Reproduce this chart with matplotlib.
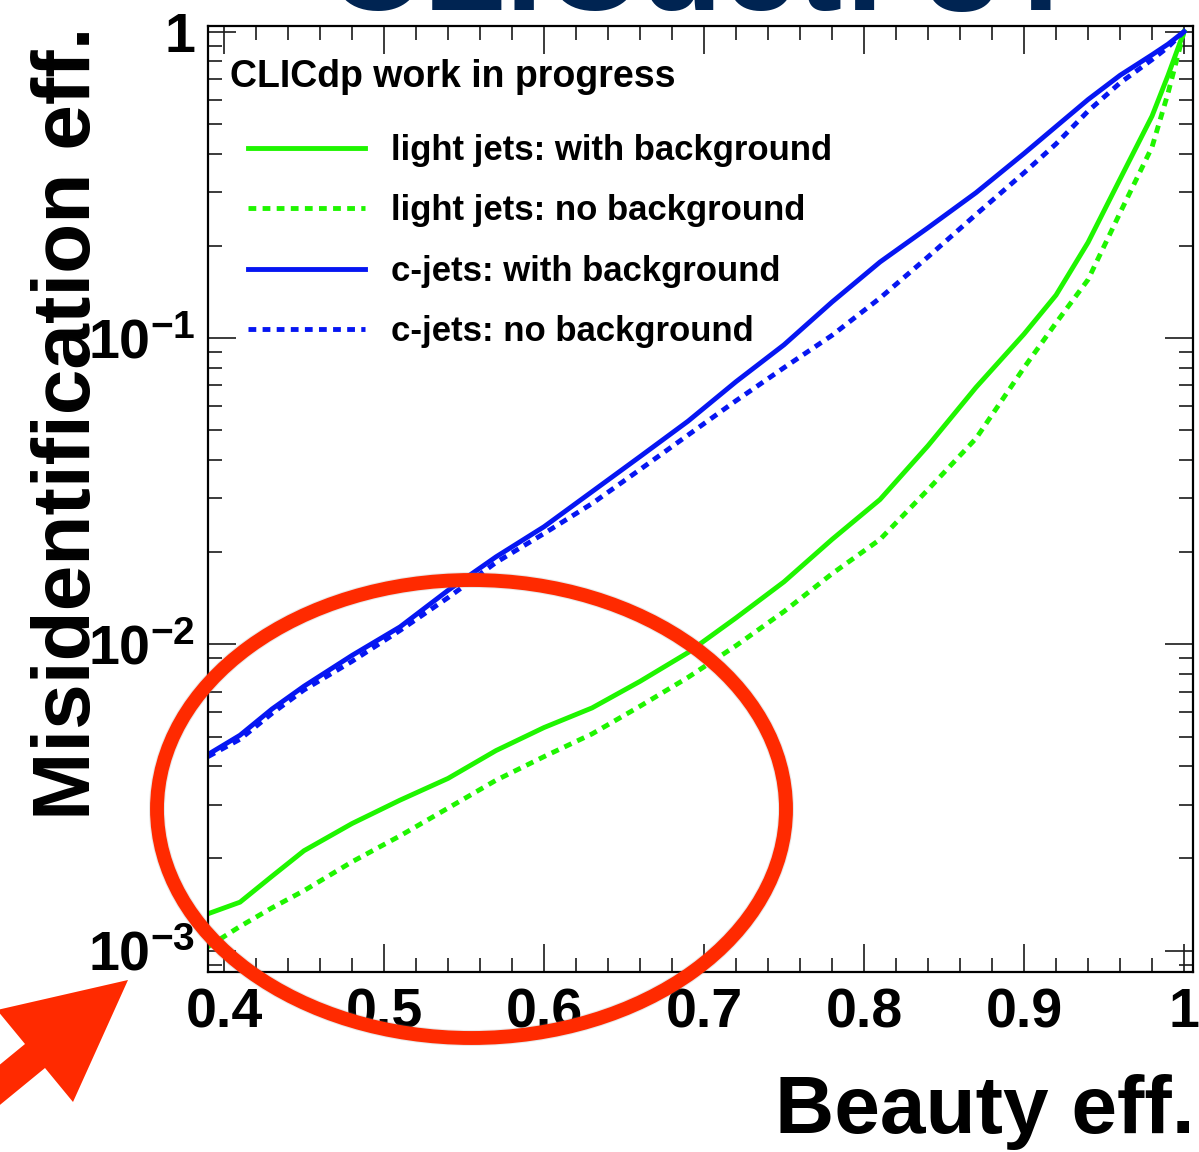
import math
import matplotlib
matplotlib.use('Agg')
import matplotlib.pyplot as plt
import matplotlib.patheffects as pe
from matplotlib.patches import Ellipse, Polygon
from matplotlib.lines import Line2D
from matplotlib.ticker import MultipleLocator, LogLocator, FuncFormatter, NullFormatter

# beauty efficiency and mis-id efficiencies
beauty_eff = [0.39, 0.41, 0.43, 0.45, 0.48, 0.51, 0.54, 0.57, 0.60, 0.63, 0.66, 0.69,
              0.72, 0.75, 0.78, 0.81, 0.84, 0.87, 0.90, 0.92, 0.94, 0.96, 0.98, 0.99, 1.00]
light_bg = [1.32e-3, 1.44e-3, 1.75e-3, 2.12e-3, 2.6e-3, 3.1e-3, 3.65e-3, 4.5e-3, 5.35e-3,
            6.2e-3, 7.57e-3, 9.4e-3, 1.22e-2, 1.6e-2, 2.2e-2, 2.97e-2, 4.45e-2, 6.9e-2,
            0.103, 0.138, 0.205, 0.33, 0.53, 0.72, 1.0]
light_nobg = [1.03e-3, 1.2e-3, 1.38e-3, 1.57e-3, 1.95e-3, 2.37e-3, 2.92e-3, 3.6e-3, 4.3e-3,
              5.1e-3, 6.28e-3, 7.8e-3, 9.9e-3, 1.28e-2, 1.7e-2, 2.2e-2, 3.2e-2, 4.7e-2,
              8.0e-2, 0.112, 0.155, 0.256, 0.42, 0.63, 1.0]
c_bg = [4.37e-3, 5.05e-3, 6.15e-3, 7.3e-3, 9.2e-3, 1.14e-2, 1.5e-2, 1.93e-2, 2.42e-2,
        3.15e-2, 4.1e-2, 5.35e-2, 7.2e-2, 9.5e-2, 0.131, 0.177, 0.229, 0.298,
        0.40, 0.49, 0.60, 0.72, 0.84, 0.91, 1.0]
c_nobg = [4.3e-3, 4.9e-3, 5.95e-3, 7.1e-3, 8.8e-3, 1.11e-2, 1.42e-2, 1.85e-2, 2.3e-2,
          2.88e-2, 3.72e-2, 4.82e-2, 6.24e-2, 8.0e-2, 0.102, 0.135, 0.184, 0.253,
          0.346, 0.43, 0.55, 0.68, 0.81, 0.89, 1.0]

labels = ['light jets: with background', 'light jets: no background',
          'c-jets: with background', 'c-jets: no background']
x_ticks = [0.4, 0.5, 0.6, 0.7, 0.8, 0.9, 1.0]
x_tick_labels = ['0.4', '0.5', '0.6', '0.7', '0.8', '0.9', '1']

plt.rcParams['font.family'] = ['Liberation Sans', 'DejaVu Sans']
plt.rcParams['font.weight'] = 'bold'
plt.rcParams['mathtext.fontset'] = 'custom'
plt.rcParams['mathtext.rm'] = 'Liberation Sans:bold'
plt.rcParams['mathtext.bf'] = 'Liberation Sans:bold'
plt.rcParams['mathtext.it'] = 'Liberation Sans:bold'

W, H = 1199, 1152
fig = plt.figure(figsize=(W / 100, H / 100), dpi=100)
ax = fig.add_axes([208 / W, 1 - 972 / H, (1193 - 208) / W, (972 - 26) / H])

green = '#1ff500'
blue = '#0616f2'
dots = (0, (1.6, 1.3))
lw = 3.5

ax.plot(beauty_eff, light_bg, color=green, lw=lw)
ax.plot(beauty_eff, light_nobg, color=green, lw=lw, ls=dots, dash_capstyle='butt')
ax.plot(beauty_eff, c_bg, color=blue, lw=lw)
ax.plot(beauty_eff, c_nobg, color=blue, lw=lw, ls=dots, dash_capstyle='butt')

ax.set_yscale('log')
ax.set_xlim(0.39, 1.0056)
ax.set_ylim(8.52e-4, 1.043)

ax.xaxis.set_minor_locator(MultipleLocator(0.02))
ax.set_xticks(x_ticks)
ax.set_xticklabels(x_tick_labels)
ax.yaxis.set_major_locator(LogLocator(base=10, numticks=10))
ax.yaxis.set_minor_locator(LogLocator(base=10, subs=range(2, 10), numticks=20))
ax.yaxis.set_minor_formatter(NullFormatter())


def ylab(v, pos):
    e = int(round(math.log10(v)))
    if e == 0:
        return '1'
    return r'$10^{%d}$' % e


ax.yaxis.set_major_formatter(FuncFormatter(ylab))

ax.tick_params(which='both', direction='in', top=True, right=True, width=1.2, color='#1a1a1a')
ax.tick_params(which='major', length=20)
ax.tick_params(which='minor', length=10)
ax.tick_params(axis='x', labelsize=40, pad=11)
ax.tick_params(axis='y', labelsize=40, pad=9)
for s in ax.spines.values():
    s.set_linewidth(1.6)

ax.set_xlabel('Beauty eff.', fontsize=59, fontweight='bold')
ax.xaxis.set_label_coords(1.002, -0.108)
ax.xaxis.label.set_horizontalalignment('right')
ax.set_ylabel('Misidentification eff.', fontsize=59, fontweight='bold')
ax.yaxis.set_label_coords(-0.103, 1.0)
ax.yaxis.label.set_horizontalalignment('right')

ax.text(0.0223, 0.9355, 'CLICdp work in progress', transform=ax.transAxes,
        fontsize=27, fontweight='bold', va='baseline', ha='left')

handles = [Line2D([], [], color=green, lw=lw),
           Line2D([], [], color=green, lw=lw, ls=dots, dash_capstyle='butt'),
           Line2D([], [], color=blue, lw=lw),
           Line2D([], [], color=blue, lw=lw, ls=dots, dash_capstyle='butt')]
ax.legend(handles, labels, loc='upper left', bbox_to_anchor=(0.0406, 0.886),
          frameon=False, handlelength=3.37, handletextpad=0.75,
          labelspacing=0.79, borderpad=0, borderaxespad=0,
          prop={'size': 25, 'weight': 'bold'})

# cut-off slide title at the very top
fig.text(0.272, 1 - 10 / H, 'CLICdet: 3T', fontsize=97, fontweight='bold',
         color='#002452', va='baseline', ha='left')

# red annotation ellipse and arrow
red = '#ff2a00'
ell = Ellipse((471.5 / W, 1 - 809 / H), 629 / W, 458 / H, transform=fig.transFigure,
              fill=False, edgecolor=red, lw=10, zorder=10)
ell.set_path_effects([pe.Stroke(linewidth=11.5, foreground='0.55', alpha=0.2), pe.Normal()])
fig.patches.append(ell)

arrow_px = [(128, 980), (-3, 1010), (25, 1044), (-130, 1171), (-110, 1195),
            (45, 1068), (73, 1102)]
arrow = Polygon([(x / W, 1 - y / H) for x, y in arrow_px], closed=True,
                transform=fig.transFigure, facecolor=red, edgecolor='none', zorder=10)
fig.patches.append(arrow)

fig.savefig('out.png', dpi=100)
